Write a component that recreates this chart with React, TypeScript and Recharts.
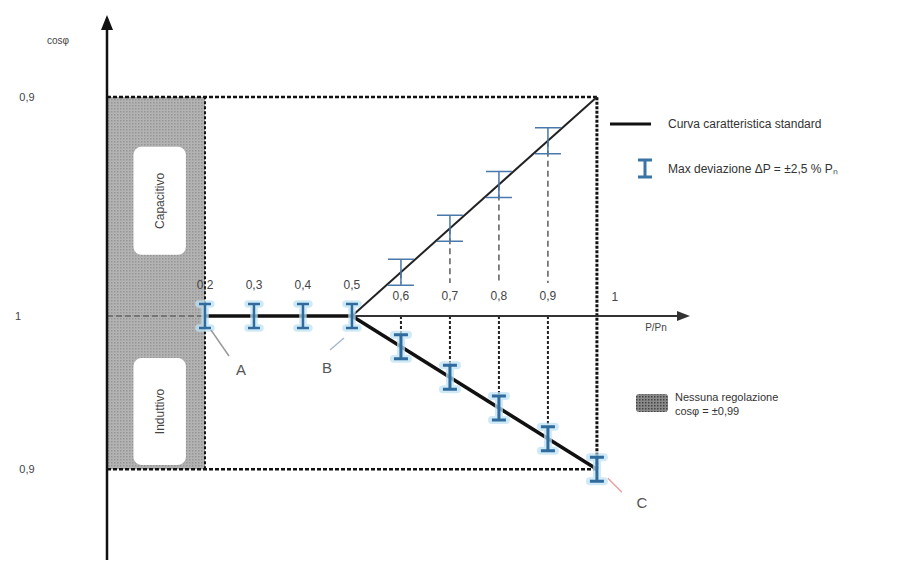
import React from 'react';
import { ComposedChart, XAxis, YAxis, Line, Scatter, ReferenceLine, ReferenceArea } from 'recharts';

// ---- domain of the schematic (x = P/Pn, y = signed reactive position; +1 = cosφ 0,9 capacitive, -0,7 = cosφ 0,9 inductive)
const X_DOMAIN: [number, number] = [0, 1.19];
const Y_DOMAIN: [number, number] = [-1.114, 1.374];
const Y_CAP_09 = 1;
const Y_IND_09 = -0.7;
const P_NO_REG = 0.2;
const P_BREAK = 0.5;
const P_END = 1;

// ---- characteristic curve points
const flatP = [0.2, 0.3, 0.4, 0.5];
const flatY = [0, 0, 0, 0];
const upperP = [0.6, 0.7, 0.8, 0.9];
const upperY = [0.2, 0.4, 0.6, 0.8];
const lowerP = [0.6, 0.7, 0.8, 0.9, 1.0];
const lowerY = [-0.14, -0.28, -0.42, -0.56, -0.7];

// ---- tick labels
const xTickValues = [0.2, 0.3, 0.4, 0.5, 0.6, 0.7, 0.8, 0.9, 1];
const xTickLabels = ['0,2', '0,3', '0,4', '0,5', '0,6', '0,7', '0,8', '0,9', '1'];
const yTickValues = [Y_CAP_09, 0, Y_IND_09];
const yTickLabels = ['0,9', '1', '0,9'];

// ---- zones (no regulation area labels)
const zoneNames = ['Capacitivo', 'Induttivo'];
const zoneX = [0.054, 0.161];
const zoneY1 = [0.772, -0.192];
const zoneY2 = [0.279, -0.68];

// ---- callouts
const calloutNames = ['A', 'B', 'C'];
const calloutP = [0.2, 0.5, 1];
const calloutY = [0, 0, -0.7];

const W = 910;
const H = 563;
const FONT = "'Liberation Sans', Arial, sans-serif";

const pts = (xs: number[], ys: number[]) => xs.map((x, i) => ({ x, y: ys[i] }));

const IBeam = (half: number, cap: number, sw: number, color: string, halo: boolean) => (props: any) => {
  const { cx, cy } = props;
  if (cx == null || cy == null) return null;
  const d = `M${cx - cap},${cy - half}H${cx + cap}M${cx},${cy - half}V${cy + half}M${cx - cap},${cy + half}H${cx + cap}`;
  return (
    <g>
      {halo && <path d={d} stroke="#bfe2f4" strokeWidth={sw + 5} strokeLinecap="round" fill="none" opacity={0.75} />}
      <path d={d} stroke={color} strokeWidth={sw} fill="none" />
    </g>
  );
};

const TextMark = (dx: number, dy: number, size: number, color: string, anchor = 'middle') => (props: any) => {
  const { cx, cy, payload } = props;
  if (cx == null || cy == null) return null;
  return (
    <text x={cx + dx} y={cy + dy} fontSize={size} fill={color} fontFamily={FONT} textAnchor={anchor} dominantBaseline="central">
      {payload.label}
    </text>
  );
};

const ZoneText = (props: any) => {
  const { cx, cy, payload } = props;
  if (cx == null || cy == null) return null;
  return (
    <text
      x={cx}
      y={cy}
      fontSize={12}
      fill="#444"
      fontFamily={FONT}
      textAnchor="middle"
      dominantBaseline="central"
      transform={`rotate(-90 ${cx} ${cy})`}
    >
      {payload.label}
    </text>
  );
};

const calloutStyle = [
  { l1: [6, 14], l2: [24, 40], t: [36, 54], c: '#9a9a9a' },
  { l1: [-8, 22], l2: [-22, 34], t: [-25, 52], c: '#a9b8cc' },
  { l1: [11, 9], l2: [25, 23], t: [45, 33], c: '#e3a3a3' },
];

const Callout = (props: any) => {
  const { cx, cy, payload } = props;
  if (cx == null || cy == null) return null;
  const s = calloutStyle[payload.idx];
  return (
    <g>
      <line x1={cx + s.l1[0]} y1={cy + s.l1[1]} x2={cx + s.l2[0]} y2={cy + s.l2[1]} stroke={s.c} strokeWidth={1.5} />
      <text x={cx + s.t[0]} y={cy + s.t[1]} fontSize={15} fill="#555" fontFamily={FONT} textAnchor="middle" dominantBaseline="central">
        {payload.label}
      </text>
    </g>
  );
};

const ArrowUp = (props: any) => {
  const { cx, cy } = props;
  if (cx == null) return null;
  return <path d={`M${cx},${cy}L${cx - 6},${cy + 15}L${cx + 6},${cy + 15}Z`} fill="#111" />;
};
const ArrowRight = (props: any) => {
  const { cx, cy } = props;
  if (cx == null) return null;
  return <path d={`M${cx},${cy}L${cx - 13},${cy - 5}L${cx - 13},${cy + 5}Z`} fill="#333" />;
};

export default function App() {
  const xTicks = xTickValues.map((x, i) => ({ x, y: 0, label: xTickLabels[i] }));
  const yTicks = yTickValues.map((y, i) => ({ x: 0, y, label: yTickLabels[i] }));
  const zones = zoneNames.map((label, i) => ({ x: (zoneX[0] + zoneX[1]) / 2, y: (zoneY1[i] + zoneY2[i]) / 2, label }));
  const callouts = calloutNames.map((label, i) => ({ x: calloutP[i], y: calloutY[i], label, idx: i }));

  return (
    <div style={{ position: 'absolute', left: 0, top: 0, width: W, height: H, background: '#fff' }}>
      <ComposedChart width={W} height={H} margin={{ top: 15, left: 107, right: W - 690, bottom: 3 }}>
        <defs>
          <pattern id="hatch" width="3" height="3" patternUnits="userSpaceOnUse">
            <rect width="3" height="3" fill="#b3b3b3" />
            <rect width="1.5" height="1.5" fill="#959595" />
          </pattern>
        </defs>
        <XAxis type="number" dataKey="x" domain={X_DOMAIN} hide />
        <YAxis type="number" dataKey="y" domain={Y_DOMAIN} hide />

        {/* no-regulation zone */}
        <ReferenceArea x1={0} x2={P_NO_REG} y1={Y_IND_09} y2={Y_CAP_09} fill="url(#hatch)" fillOpacity={1} stroke="none" />
        {zoneNames.map((n, i) => (
          <ReferenceArea key={n} x1={zoneX[0]} x2={zoneX[1]} y1={zoneY2[i]} y2={zoneY1[i]} fill="#ffffff" fillOpacity={1} stroke="none" radius={8} />
        ))}

        {/* dashed frame */}
        <ReferenceLine segment={[{ x: 0, y: Y_CAP_09 }, { x: P_END, y: Y_CAP_09 }]} stroke="#111" strokeWidth={2.5} strokeDasharray="4 2" />
        <ReferenceLine segment={[{ x: 0, y: Y_IND_09 }, { x: P_END, y: Y_IND_09 }]} stroke="#111" strokeWidth={2.5} strokeDasharray="4 2" />
        <ReferenceLine segment={[{ x: P_NO_REG, y: Y_IND_09 }, { x: P_NO_REG, y: Y_CAP_09 }]} stroke="#111" strokeWidth={2} strokeDasharray="3 2" />
        <ReferenceLine segment={[{ x: P_END, y: Y_IND_09 }, { x: P_END, y: Y_CAP_09 }]} stroke="#111" strokeWidth={3} strokeDasharray="3 1.5" />

        {/* vertical connectors */}
        {upperP.map((p, i) => (
          <ReferenceLine key={'u' + p} segment={[{ x: p, y: upperY[i] }, { x: p, y: 0.15 }]} stroke="#333" strokeWidth={1.2} strokeDasharray="6 4" />
        ))}
        {lowerP.slice(0, 4).map((p, i) => (
          <ReferenceLine key={'l' + p} segment={[{ x: p, y: 0 }, { x: p, y: lowerY[i] }]} stroke="#222" strokeWidth={2} strokeDasharray="3 2" />
        ))}

        {/* axes */}
        <ReferenceLine segment={[{ x: 0, y: 0 }, { x: P_NO_REG, y: 0 }]} stroke="#666" strokeWidth={1.5} strokeDasharray="6 3" />
        <ReferenceLine segment={[{ x: P_NO_REG, y: 0 }, { x: X_DOMAIN[1] - 0.02, y: 0 }]} stroke="#333" strokeWidth={2} />
        <ReferenceLine segment={[{ x: 0, y: Y_DOMAIN[0] }, { x: 0, y: Y_DOMAIN[1] - 0.06 }]} stroke="#111" strokeWidth={2.5} />
        <Scatter data={[{ x: 0, y: Y_DOMAIN[1] }]} shape={ArrowUp} isAnimationActive={false} />
        <Scatter data={[{ x: X_DOMAIN[1], y: 0 }]} shape={ArrowRight} isAnimationActive={false} />

        {/* characteristic curve */}
        <Line data={pts([P_NO_REG, P_BREAK], [0, 0])} dataKey="y" stroke="#111" strokeWidth={3.5} dot={false} isAnimationActive={false} />
        <Line data={pts([P_BREAK, P_END], [0, Y_CAP_09])} dataKey="y" stroke="#222" strokeWidth={2} dot={false} isAnimationActive={false} />
        <Line data={pts([P_BREAK, P_END], [0, Y_IND_09])} dataKey="y" stroke="#111" strokeWidth={3.5} dot={false} isAnimationActive={false} />

        {/* deviation bars */}
        <Scatter data={pts(flatP, flatY)} shape={IBeam(12, 6, 2.5, '#2f6b9c', true)} isAnimationActive={false} />
        <Scatter data={pts(lowerP, lowerY)} shape={IBeam(12, 7, 3, '#2f6b9c', true)} isAnimationActive={false} />
        <Scatter data={pts(upperP, upperY)} shape={IBeam(13, 13, 1.5, '#4a78aa', false)} isAnimationActive={false} />

        {/* labels */}
        <Scatter data={xTicks.slice(0, 4)} shape={TextMark(0, -31, 12, '#444')} isAnimationActive={false} />
        <Scatter data={xTicks.slice(4, 8)} shape={TextMark(0, -20, 12, '#444')} isAnimationActive={false} />
        <Scatter data={xTicks.slice(8)} shape={TextMark(18, -19, 12, '#444')} isAnimationActive={false} />
        <Scatter data={[{ x: X_DOMAIN[1], y: 0, label: 'P/Pn' }]} shape={TextMark(-34, 12, 10, '#444')} isAnimationActive={false} />
        <Scatter data={[yTicks[0], yTicks[2]]} shape={TextMark(-80, 0, 11, '#444')} isAnimationActive={false} />
        <Scatter data={[yTicks[1]]} shape={TextMark(-89, 0, 11, '#444')} isAnimationActive={false} />
        <Scatter data={[{ x: 0, y: Y_DOMAIN[1], label: 'cosφ' }]} shape={TextMark(-49, 25, 10, '#444')} isAnimationActive={false} />
        <Scatter data={zones} shape={ZoneText} isAnimationActive={false} />
        <Scatter data={callouts} shape={Callout} isAnimationActive={false} />
      </ComposedChart>

      <svg width={W} height={H} style={{ position: 'absolute', left: 0, top: 0, pointerEvents: 'none' }}>
        <defs>
          <pattern id="hatch2" width="3" height="3" patternUnits="userSpaceOnUse">
            <rect width="3" height="3" fill="#8a8a8a" />
            <rect width="1.5" height="1.5" fill="#444" />
          </pattern>
        </defs>
        <line x1={610} y1={124} x2={651} y2={124} stroke="#111" strokeWidth={3} />
        <text x={668} y={124} fontSize={12} fill="#333" fontFamily={FONT} dominantBaseline="central">Curva caratteristica standard</text>
        <path d="M638,160H652M645,160V177M638,177H652" stroke="#3a75a6" strokeWidth={3} fill="none" />
        <text x={668} y={169} fontSize={12} fill="#333" fontFamily={FONT} dominantBaseline="central">Max deviazione ΔP = ±2,5 % Pₙ</text>
        <rect x={636} y={394} width={32} height={18} rx={3} fill="url(#hatch2)" />
        <text x={675} y={397} fontSize={11} fill="#333" fontFamily={FONT} dominantBaseline="central">Nessuna regolazione</text>
        <text x={675} y={411} fontSize={11} fill="#333" fontFamily={FONT} dominantBaseline="central">cosφ = ±0,99</text>
      </svg>
    </div>
  );
}
